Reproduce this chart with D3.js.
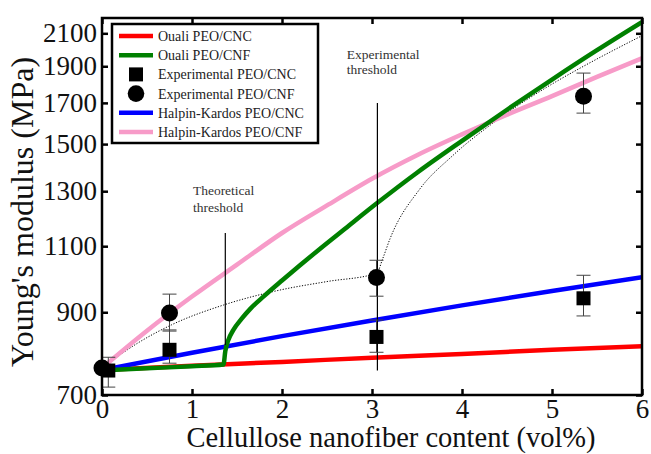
<!DOCTYPE html>
<html><head><meta charset="utf-8">
<script src="https://cdn.jsdelivr.net/npm/d3@7"></script>
<style>body{margin:0;background:#fff}</style>
</head><body><svg id="c" width="651" height="454"></svg>
<script>
// ---- data ----
const xTicks = [0,1,2,3,4,5,6];
const yTicks = [700,900,1100,1300,1500,1700,1900,2100];
const oualiCNC = [[0,755],[1,765],[2,774],[3,784],[4,793],[5,803],[6,812]];
const oualiCNF = [[0,754],[0.5,759],[1,764],[1.35,768],[1.37,800],[1.40,825],[1.46,853],[1.55,882],[1.65,910],[1.8,945],[2.0,991],[2.2,1038],[2.42,1091],[2.7,1160],[3.05,1252],[3.5,1375],[4.0,1515],[4.5,1665],[5.0,1825],[5.5,1995],[6,2173]];
const halpinCNC = [[0,755],[1,796],[2,837],[3,878],[4,919],[5,960],[6,1001]];
const halpinCNF = [[0,760],[0.5,851],[1,944],[1.5,1040],[2,1145],[2.5,1245],[3,1350],[3.5,1450],[4,1545],[4.5,1640],[5,1735],[5.5,1840],[6,1947]];
const trendCNF = [[0,760],[0.4,820],[0.77,866],[1.35,920],[1.98,963],[2.5,988],[3.05,1013],[3.12,1060],[3.2,1125],[3.53,1308],[3.89,1446],[4.41,1620],[5.0,1800],[5.35,1900],[6,2085]];
const expCNC = [{x:0.07,y:754,lo:717,hi:785},{x:0.75,y:803,lo:771,hi:853},{x:3.05,y:835,lo:797,hi:879},{x:5.35,y:939,lo:890,hi:1007}];
const expCNF = [{x:0,y:760,lo:760,hi:760},{x:0.75,y:898,lo:850,hi:951},{x:3.05,y:1000,lo:945,hi:1054},{x:5.35,y:1735,lo:1648,hi:1861}];
const thresholds = [
  {x:1.37, y0:815, y1:1145, label:["Theoretical","threshold"], lx:1.01, ly:[1285,1222]},
  {x:3.06, y0:754, y1:1699, label:["Experimental","threshold"], lx:2.72, ly:[1945,1855]}
];
const legendItems = [
  {name:"Ouali PEO/CNC", type:"line", color:"#ff0000"},
  {name:"Ouali PEO/CNF", type:"line", color:"#008000"},
  {name:"Experimental PEO/CNC", type:"square", color:"#000"},
  {name:"Experimental PEO/CNF", type:"circle", color:"#000"},
  {name:"Halpin-Kardos PEO/CNC", type:"line", color:"#0000ff"},
  {name:"Halpin-Kardos PEO/CNF", type:"line", color:"#f79bc8"}
];

// ---- chart ----
const FONT = "Liberation Serif";
const svg = d3.select("#c");
const L=102, R=642, T=18, B=395;
const x = d3.scaleLinear().domain([0,6]).range([L,R]);
const y = d3.scaleLog().domain([700,2200]).range([B,T]);

svg.append("defs").append("clipPath").attr("id","clip")
  .append("rect").attr("x",L).attr("y",T).attr("width",R-L).attr("height",B-T);

const line = d3.line().x(d=>x(d[0])).y(d=>y(d[1])).curve(d3.curveMonotoneX);
const g = svg.append("g").attr("clip-path","url(#clip)");

g.append("path").datum(trendCNF).attr("d",line).attr("fill","none")
  .attr("stroke","#000").attr("stroke-width",1).attr("stroke-dasharray","1.2,1.6");
g.append("path").datum(oualiCNC).attr("d",line).attr("fill","none").attr("stroke","#ff0000").attr("stroke-width",4.5);
g.append("path").datum(halpinCNC).attr("d",line).attr("fill","none").attr("stroke","#0000ff").attr("stroke-width",4.5);
g.append("path").datum(halpinCNF).attr("d",line).attr("fill","none").attr("stroke","#f79bc8").attr("stroke-width",4.5);
g.append("path").datum(oualiCNF).attr("d",line).attr("fill","none").attr("stroke","#008000").attr("stroke-width",4.5);

// thresholds
thresholds.forEach(t=>{
  svg.append("line").attr("x1",x(t.x)).attr("x2",x(t.x)).attr("y1",y(t.y0)).attr("y2",y(t.y1))
    .attr("stroke","#000").attr("stroke-width",1.2);
  t.label.forEach((s,i)=>{
    svg.append("text").attr("x",x(t.lx)).attr("y",y(t.ly[i])).attr("font-size",13.5).attr("fill","#333").text(s);
  });
});

// error bars + markers
function errBars(data){
  data.forEach(d=>{
    if(d.hi===d.lo) return;
    const cx=x(d.x);
    svg.append("line").attr("x1",cx).attr("x2",cx).attr("y1",y(d.lo)).attr("y2",y(d.hi)).attr("stroke","#444").attr("stroke-width",1);
    [d.lo,d.hi].forEach(v=>svg.append("line").attr("x1",cx-7).attr("x2",cx+7).attr("y1",y(v)).attr("y2",y(v)).attr("stroke","#444").attr("stroke-width",1));
  });
}
errBars(expCNC); errBars(expCNF);
svg.selectAll(".sq").data(expCNC).join("rect").attr("x",d=>x(d.x)-7).attr("y",d=>y(d.y)-7)
  .attr("width",14).attr("height",14).attr("fill","#000");
svg.selectAll(".ci").data(expCNF).join("circle").attr("cx",d=>x(d.x)).attr("cy",d=>y(d.y))
  .attr("r",8.5).attr("fill","#000");

// axes box
svg.append("rect").attr("x",L).attr("y",T).attr("width",R-L).attr("height",B-T)
  .attr("fill","none").attr("stroke","#000").attr("stroke-width",2.5);

const fs=27;
const ax = svg.append("g").attr("transform",`translate(0,${B})`)
  .call(d3.axisBottom(x).tickValues(xTicks).tickSize(-6).tickPadding(4).tickFormat(d3.format("d")));
const ay = svg.append("g").attr("transform",`translate(${L},0)`)
  .call(d3.axisLeft(y).tickValues(yTicks).tickSize(-6).tickPadding(5).tickFormat(d3.format("d")));
const axT = svg.append("g").attr("transform",`translate(0,${T})`)
  .call(d3.axisTop(x).tickValues(xTicks).tickSize(-6).tickFormat(""));
const ayR = svg.append("g").attr("transform",`translate(${R},0)`)
  .call(d3.axisRight(y).tickValues(yTicks).tickSize(-6).tickFormat(""));
[ax,ay,axT,ayR].forEach(a=>{
  a.select(".domain").remove();
  a.selectAll(".tick line").attr("stroke","#000").attr("stroke-width",2.5);
  a.selectAll("text").attr("font-size",fs).attr("fill","#111");
});

// axis titles
svg.append("text").attr("x",391).attr("y",447).attr("text-anchor","middle")
  .attr("font-size",28.5).attr("fill","#111").text("Cellullose nanofiber content (vol%)");
svg.append("text").attr("transform","translate(33,212) rotate(-90)").attr("text-anchor","middle")
  .attr("font-size",32).attr("fill","#111").text("Young's modulus (MPa)");

// legend
const lg = svg.append("g");
lg.append("rect").attr("x",112).attr("y",24).attr("width",206).attr("height",119)
  .attr("fill","#fff").attr("stroke","#000").attr("stroke-width",2.5);
const rowY = d3.scalePoint().domain(legendItems.map(d=>d.name)).range([36,132]);
legendItems.forEach(it=>{
  const yy=rowY(it.name);
  if(it.type==="line") lg.append("line").attr("x1",119).attr("x2",153).attr("y1",yy).attr("y2",yy).attr("stroke",it.color).attr("stroke-width",4.5);
  else if(it.type==="square") lg.append("rect").attr("x",136-7).attr("y",yy-7).attr("width",14).attr("height",14).attr("fill","#000");
  else lg.append("circle").attr("cx",136).attr("cy",yy).attr("r",8.3).attr("fill","#000");
  lg.append("text").attr("x",158).attr("y",yy).attr("dy","0.35em").attr("font-size",14).attr("fill","#222").text(it.name);
});
svg.selectAll("text").style("font-family",FONT);
</script></body></html>
